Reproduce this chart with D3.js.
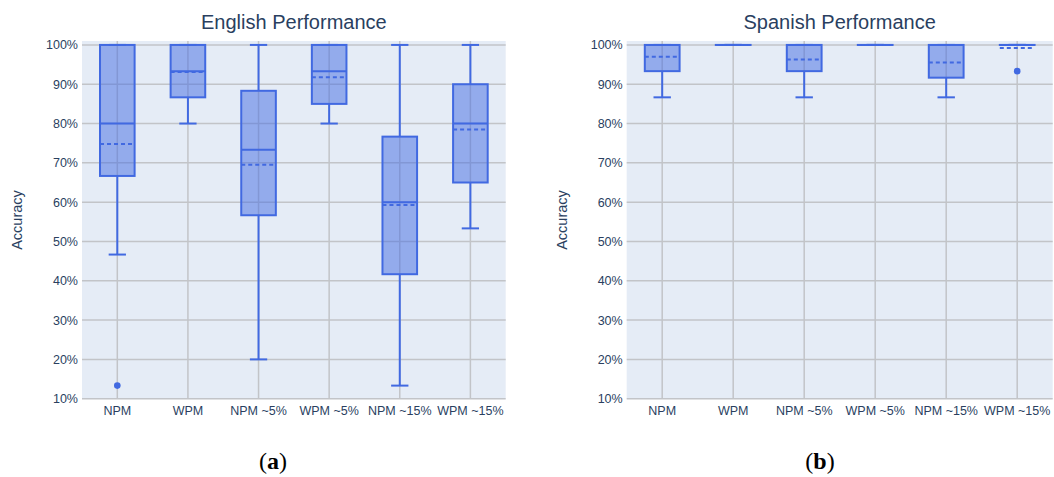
<!DOCTYPE html>
<html>
<head>
<meta charset="utf-8">
<script src="https://cdn.jsdelivr.net/npm/d3@7"></script>
<style>
  html, body { margin: 0; padding: 0; background: #fff; }
  svg { display: block; }
</style>
</head>
<body>
<svg id="chart" width="1054" height="477"></svg>
<script>
// Method labels along the x axis
const categories = ["NPM", "WPM", "NPM ~5%", "WPM ~5%", "NPM ~15%", "WPM ~15%"];
const yTicks = [10, 20, 30, 40, 50, 60, 70, 80, 90, 100];

// English accuracy (%) summary statistics per method
const englishLower  = [46.67, 80, 20, 80, 13.33, 53.33];
const englishQ1     = [66.67, 86.67, 56.67, 85, 41.67, 65];
const englishMedian = [80, 93.33, 73.33, 93.33, 60, 80];
const englishQ3     = [100, 100, 88.33, 100, 76.67, 90];
const englishUpper  = [100, 100, 100, 100, 100, 100];
const englishMean   = [74.8, 93.1, 69.5, 91.8, 59.3, 78.5];
const englishOutliers = [[13.33], [], [], [], [], []];

// Spanish accuracy (%) summary statistics per method
const spanishLower  = [86.67, 100, 86.67, 100, 86.67, 100];
const spanishQ1     = [93.33, 100, 93.33, 100, 91.67, 100];
const spanishMedian = [100, 100, 100, 100, 100, 100];
const spanishQ3     = [100, 100, 100, 100, 100, 100];
const spanishUpper  = [100, 100, 100, 100, 100, 100];
const spanishMean   = [97.0, 100, 96.3, 100, 95.5, 99.2];
const spanishOutliers = [[], [], [], [], [], [93.33]];

const svg = d3.select("#chart");
const FONT = "'Liberation Sans', Arial, sans-serif";
const TEXT = "#2a3f5f";
const BLUE = "#4169e1";
const GRID = "#c2c4c8";

function panel(opts) {
  const { left, right, top, bottom, title, lower, q1, median, q3, upper, mean, outliers, caption, captionX, labelX } = opts;
  const g = svg.append("g");

  const x = d3.scaleBand().domain(categories).range([left, right]).padding(0);
  const y = d3.scaleLinear().domain([10, 101]).range([bottom, top]);

  // plot background
  g.append("rect")
    .attr("x", left).attr("y", top)
    .attr("width", right - left).attr("height", bottom - top)
    .attr("fill", "#e5ecf6");

  // horizontal grid
  g.append("g").selectAll("line").data(yTicks).join("line")
    .attr("x1", left).attr("x2", right)
    .attr("y1", d => y(d)).attr("y2", d => y(d))
    .attr("stroke", GRID).attr("stroke-width", 1.5);

  // vertical grid at category centres
  g.append("g").selectAll("line").data(categories).join("line")
    .attr("x1", d => x(d) + x.bandwidth() / 2).attr("x2", d => x(d) + x.bandwidth() / 2)
    .attr("y1", top).attr("y2", bottom)
    .attr("stroke", GRID).attr("stroke-width", 1.5);

  // y axis
  const yAxis = d3.axisLeft(y).tickValues(yTicks).tickFormat(d => d + "%").tickSize(0).tickPadding(4);
  const ya = g.append("g").attr("transform", `translate(${left},0)`).call(yAxis);
  ya.select(".domain").remove();
  ya.selectAll("text").attr("font-family", FONT).attr("font-size", 12.5).attr("fill", TEXT);

  // x axis
  const xAxis = d3.axisBottom(x).tickSize(0).tickPadding(7);
  const xa = g.append("g").attr("transform", `translate(0,${bottom})`).call(xAxis);
  xa.select(".domain").remove();
  xa.selectAll("text").attr("font-family", FONT).attr("font-size", 12.5).attr("fill", TEXT);

  // boxes
  const bw = x.bandwidth() * 0.49;
  const cw = bw / 2;
  const rows = categories.map((c, i) => ({ c, lo: lower[i], q1: q1[i], med: median[i], q3: q3[i], hi: upper[i], mean: mean[i], out: outliers[i] }));
  const box = g.append("g").selectAll("g").data(rows).join("g")
    .attr("transform", d => `translate(${x(d.c) + x.bandwidth() / 2},0)`);

  // whiskers
  box.append("line")
    .attr("x1", 0).attr("x2", 0)
    .attr("y1", d => y(d.lo)).attr("y2", d => y(d.q1))
    .attr("stroke", BLUE).attr("stroke-width", 2);
  box.append("line")
    .attr("x1", 0).attr("x2", 0)
    .attr("y1", d => y(d.q3)).attr("y2", d => y(d.hi))
    .attr("stroke", BLUE).attr("stroke-width", 2);
  box.append("line")
    .attr("x1", -cw / 2).attr("x2", cw / 2)
    .attr("y1", d => y(d.lo)).attr("y2", d => y(d.lo))
    .attr("stroke", BLUE).attr("stroke-width", 2);
  box.append("line")
    .attr("x1", -cw / 2).attr("x2", cw / 2)
    .attr("y1", d => y(d.hi)).attr("y2", d => y(d.hi))
    .attr("stroke", BLUE).attr("stroke-width", 2);

  // box body
  box.append("rect")
    .attr("x", -bw / 2).attr("width", bw)
    .attr("y", d => y(d.q3)).attr("height", d => Math.max(0.01, y(d.q1) - y(d.q3)))
    .attr("fill", BLUE).attr("fill-opacity", 0.5)
    .attr("stroke", BLUE).attr("stroke-width", 2);

  // median
  box.append("line")
    .attr("x1", -bw / 2).attr("x2", bw / 2)
    .attr("y1", d => y(d.med)).attr("y2", d => y(d.med))
    .attr("stroke", BLUE).attr("stroke-width", 2);

  // mean (dashed)
  box.append("line")
    .attr("x1", -bw / 2).attr("x2", bw / 2)
    .attr("y1", d => y(d.mean)).attr("y2", d => y(d.mean))
    .attr("stroke", BLUE).attr("stroke-width", 2)
    .attr("stroke-dasharray", "4,3");

  // outliers
  box.selectAll("circle").data(d => d.out).join("circle")
    .attr("cx", 0).attr("cy", d => y(d)).attr("r", 3.3)
    .attr("fill", BLUE);

  // title
  g.append("text")
    .attr("x", (left + right) / 2).attr("y", 29)
    .attr("text-anchor", "middle")
    .attr("font-family", FONT).attr("font-size", 20).attr("fill", TEXT)
    .text(title);

  // y label
  g.append("text")
    .attr("transform", `translate(${labelX},220) rotate(-90)`)
    .attr("text-anchor", "middle")
    .attr("dominant-baseline", "central")
    .attr("font-family", FONT).attr("font-size", 14.5).attr("fill", TEXT)
    .text("Accuracy");

  // panel caption
  const cap = g.append("text")
    .attr("x", captionX).attr("y", 469)
    .attr("text-anchor", "middle")
    .attr("font-family", "'Liberation Serif', 'DejaVu Serif', serif")
    .attr("font-size", 24).attr("fill", "#000");
  cap.append("tspan").text("(");
  cap.append("tspan").attr("font-weight", "bold").text(caption);
  cap.append("tspan").text(")");
}

panel({
  left: 82, right: 505.7, top: 41, bottom: 398.7,
  title: "English Performance",
  lower: englishLower, q1: englishQ1, median: englishMedian, q3: englishQ3,
  upper: englishUpper, mean: englishMean, outliers: englishOutliers,
  caption: "a", captionX: 273, labelX: 17
});

panel({
  left: 626.7, right: 1052.7, top: 41, bottom: 398.7,
  title: "Spanish Performance",
  lower: spanishLower, q1: spanishQ1, median: spanishMedian, q3: spanishQ3,
  upper: spanishUpper, mean: spanishMean, outliers: spanishOutliers,
  caption: "b", captionX: 820, labelX: 561.5
});
</script>
</body>
</html>
